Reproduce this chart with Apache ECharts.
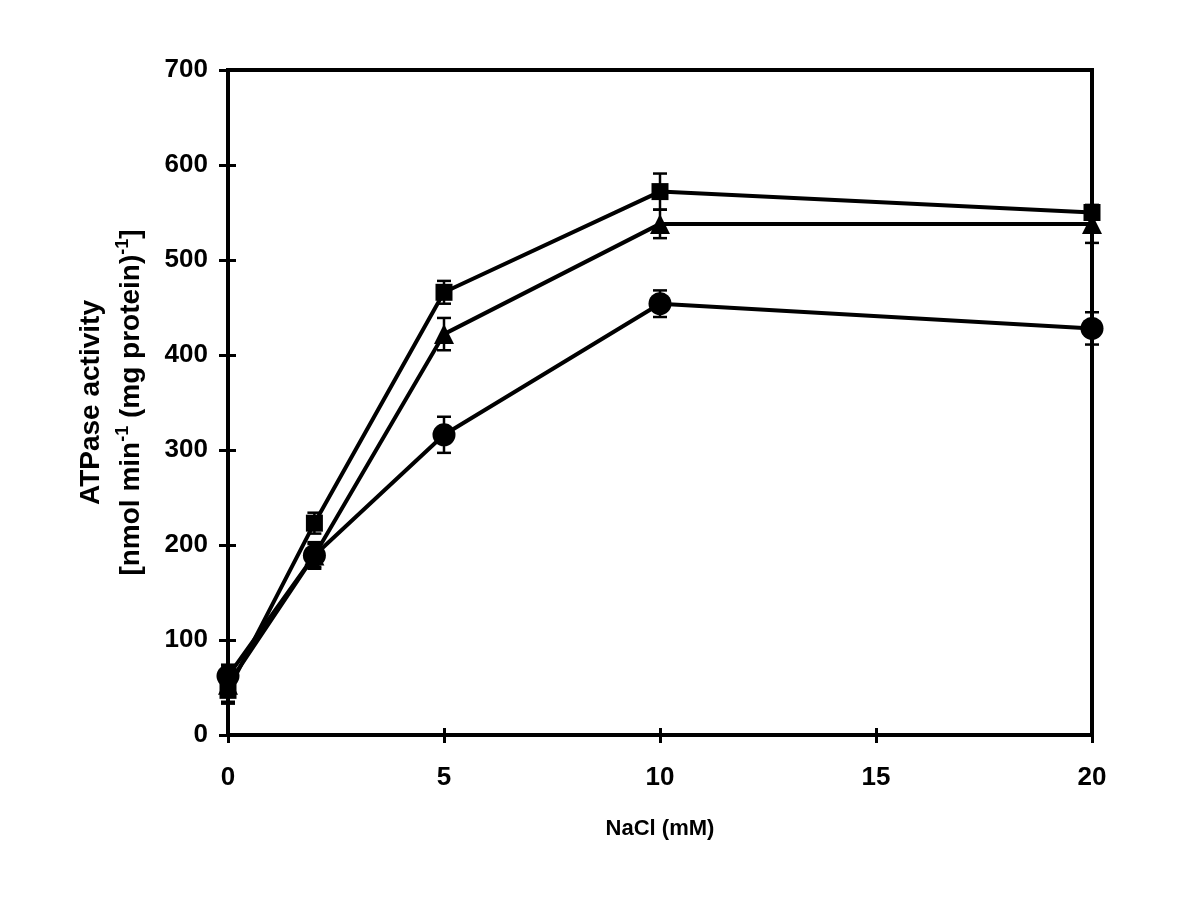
<!DOCTYPE html>
<html>
<head>
<meta charset="utf-8">
<script src="https://cdn.jsdelivr.net/npm/echarts@6/dist/echarts.min.js"></script>
<style>html,body{margin:0;padding:0;background:#fff}#c{width:1200px;height:900px}</style>
</head>
<body>
<div id="c"></div>
<script>
const nacl = [0, 2, 5, 10, 20];
const squareVals = [47, 223, 466, 572, 550];
const squareErr = [12, 11, 12, 19, 6];
const triangleVals = [53, 189, 422, 538, 538];
const triangleErr = [20, 14, 17, 15, 20];
const circleVals = [62, 189, 316, 454, 428];
const circleErr = [12, 12, 19, 14, 17];

const FONT = "'Liberation Sans', Arial, sans-serif";
const NARROW = "'Liberation Sans Narrow', 'Liberation Sans', Arial, sans-serif";

function pairs(vals) { return nacl.map((x, i) => [x, vals[i]]); }
function errData(vals, errs) { return nacl.map((x, i) => [x, vals[i] - errs[i], vals[i] + errs[i]]); }

function errSeries(vals, errs) {
  return {
    type: 'custom',
    xAxisIndex: 0, yAxisIndex: 0,
    data: errData(vals, errs),
    z: 1,
    renderItem: function (params, api) {
      const lo = api.coord([api.value(0), api.value(1)]);
      const hi = api.coord([api.value(0), api.value(2)]);
      const w = 7;
      const st = { stroke: '#000', lineWidth: 2.5 };
      return {
        type: 'group',
        children: [
          { type: 'line', shape: { x1: lo[0], y1: lo[1], x2: hi[0], y2: hi[1] }, style: st },
          { type: 'line', shape: { x1: lo[0] - w, y1: lo[1], x2: lo[0] + w, y2: lo[1] }, style: st },
          { type: 'line', shape: { x1: hi[0] - w, y1: hi[1], x2: hi[0] + w, y2: hi[1] }, style: st }
        ]
      };
    }
  };
}

function lineSeries(vals, symbol, size) {
  return {
    type: 'line',
    xAxisIndex: 0, yAxisIndex: 0,
    data: pairs(vals),
    symbol: symbol,
    symbolSize: size,
    showAllSymbol: true,
    lineStyle: { color: '#000', width: 4 },
    itemStyle: { color: '#000', borderWidth: 0 },
    z: 3,
    animation: false
  };
}

const chart = echarts.init(document.getElementById('c'), null, { renderer: 'canvas' });
chart.setOption({
  animation: false,
  backgroundColor: '#fff',
  grid: { left: 228, top: 70, width: 864, height: 665, show: true, borderColor: '#000', borderWidth: 4, backgroundColor: 'transparent' },
  xAxis: [
    {
      type: 'value', min: 0, max: 20, interval: 5,
      axisLine: { show: true, lineStyle: { color: '#000', width: 4 } },
      axisTick: { show: true, inside: false, length: 8, lineStyle: { color: '#000', width: 3 } },
      splitLine: { show: false },
      axisLabel: { color: '#000', fontFamily: NARROW, fontWeight: 'bold', fontSize: 26, margin: 30 },
      name: 'NaCl (mM)', nameLocation: 'middle', nameGap: 83,
      nameTextStyle: { color: '#000', fontFamily: NARROW, fontWeight: 'bold', fontSize: 22 }
    },
    {
      type: 'value', min: 0, max: 20, interval: 5, position: 'bottom',
      axisLine: { show: false },
      axisTick: { show: true, inside: true, length: 7, lineStyle: { color: '#000', width: 3 } },
      splitLine: { show: false },
      axisLabel: { show: false }
    }
  ],
  yAxis: [
    {
      type: 'value', min: 0, max: 700, interval: 100,
      axisLine: { show: true, lineStyle: { color: '#000', width: 4 } },
      axisTick: { show: true, inside: false, length: 9, lineStyle: { color: '#000', width: 3 } },
      splitLine: { show: false },
      axisLabel: { color: '#000', fontFamily: FONT, fontWeight: 'bold', fontSize: 26, margin: 20 },
      name: '{a|ATPase activity}\n{a|[nmol min}{s|-1}{a| (mg protein)}{s|-1}{a|]}',
      nameLocation: 'middle', nameRotate: 90, nameGap: 77,
      nameTextStyle: {
        color: '#000', fontFamily: FONT, fontWeight: 'bold', fontSize: 28, lineHeight: 40,
        rich: {
          a: { color: '#000', fontFamily: FONT, fontWeight: 'bold', fontSize: 28, lineHeight: 40 },
          s: { color: '#000', fontFamily: FONT, fontWeight: 'bold', fontSize: 18, lineHeight: 40, verticalAlign: 'top', padding: [3, 0, 0, 0] }
        }
      }
    },
    {
      type: 'value', min: 0, max: 700, interval: 100, position: 'left',
      axisLine: { show: false },
      axisTick: { show: true, inside: true, length: 8, lineStyle: { color: '#000', width: 3 } },
      splitLine: { show: false },
      axisLabel: { show: false }
    }
  ],
  series: [
    errSeries(squareVals, squareErr),
    errSeries(triangleVals, triangleErr),
    errSeries(circleVals, circleErr),
    lineSeries(squareVals, 'rect', 17),
    lineSeries(triangleVals, 'triangle', 20),
    lineSeries(circleVals, 'circle', 23)
  ]
});
</script>
</body>
</html>
